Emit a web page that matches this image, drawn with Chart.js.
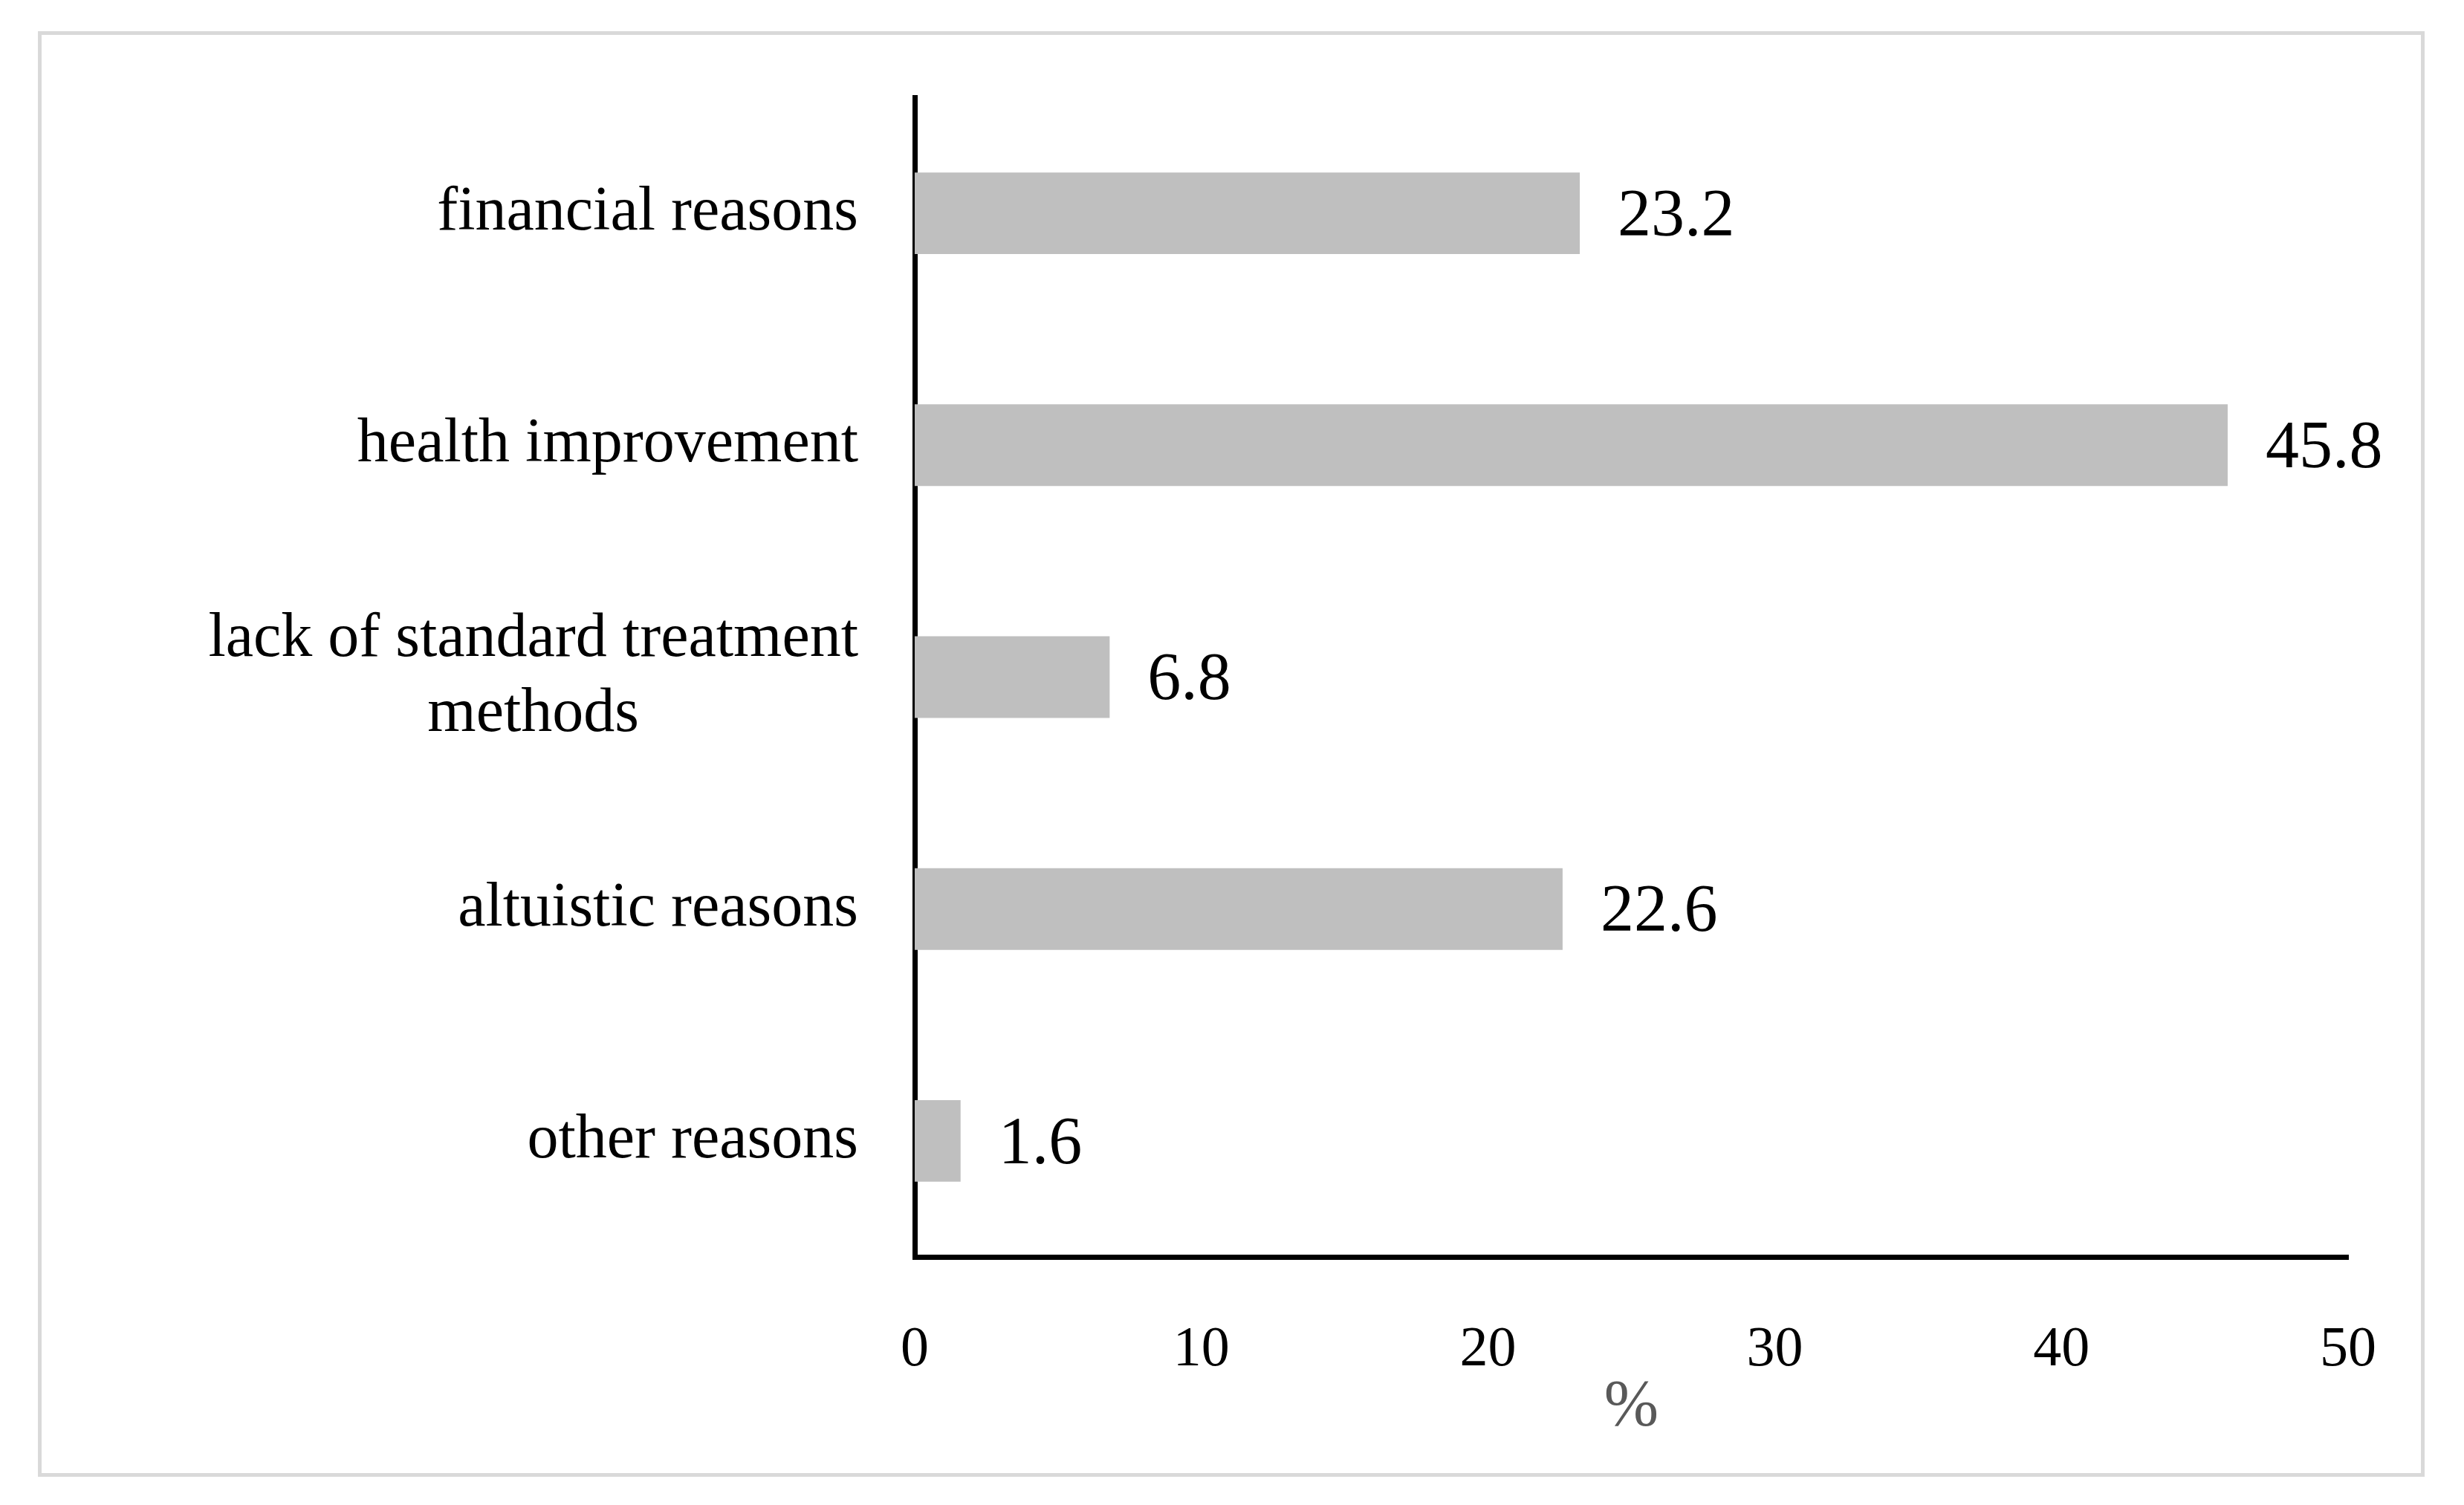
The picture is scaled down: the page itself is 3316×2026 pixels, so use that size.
<!DOCTYPE html>
<html>
<head>
<meta charset="utf-8">
<script src="https://cdn.jsdelivr.net/npm/chart.js@4.4.1/dist/chart.umd.min.js"></script>
<style>
    body { margin: 0; background: #fff; }
    #wrap { position: relative; width: 3316px; height: 2026px; }
    #moldura { position: absolute; left: 51px; top: 42px; width: 3202px; height: 1936px; border: 5px solid #d9d9d9; }
    canvas { position: absolute; left: 0; top: 0; }
</style>
</head>
<body>
<div id="wrap">
    <div id="moldura"></div>
    <canvas id="chart-motivos" width="3316" height="2026"></canvas>
</div>
<script>
//Dados do grafico
var categorias = [
    ['financial reasons'],
    ['health improvement'],
    ['lack of standard treatment', 'methods'],
    ['altuistic reasons'],
    ['other reasons']
];
var valores = [23.2, 45.8, 6.8, 22.6, 1.6];
var ticksX = [0, 10, 20, 30, 40, 50];

var fonte = 'Liberation Serif, Times New Roman, serif';

//Rotulos das categorias: bloco alinhado a direita, linhas centralizadas
var rotulosY = {
    id: 'rotulosY',
    afterDraw: function (chart) {
        let ctx = chart.ctx;
        let escala = chart.scales.y;
        let direita = 1155;
        let altLinha = 101;
        ctx.save();
        ctx.font = '84px ' + fonte;
        ctx.fillStyle = '#000';
        ctx.textAlign = 'center';
        ctx.textBaseline = 'middle';
        categorias.forEach(function (linhas, i) {
            let largura = 0;
            linhas.forEach(function (l) {
                largura = Math.max(largura, ctx.measureText(l).width);
            });
            let y0 = escala.getPixelForTick(i) - (linhas.length - 1) * altLinha / 2;
            linhas.forEach(function (l, j) {
                ctx.fillText(l, direita - largura / 2, y0 + j * altLinha);
            });
        });
        ctx.restore();
    }
};

//Valores no fim de cada barra
var rotulosValor = {
    id: 'rotulosValor',
    afterDatasetsDraw: function (chart) {
        let ctx = chart.ctx;
        let meta = chart.getDatasetMeta(0);
        ctx.save();
        ctx.font = '90px ' + fonte;
        ctx.fillStyle = '#000';
        ctx.textAlign = 'left';
        ctx.textBaseline = 'middle';
        meta.data.forEach(function (barra, i) {
            ctx.fillText(valores[i].toFixed(1), barra.x + 51, barra.y + 6);
        });
        ctx.restore();
    }
};

var ctx = document.getElementById('chart-motivos').getContext('2d');
var data = {
    labels: categorias.map(function (c) { return c.join(' '); }),
    datasets: [{
            label: '%',
            data: valores,
            backgroundColor: '#bfbfbf',
            barPercentage: 0.352,
            categoryPercentage: 1
        }]
};
const config = {
    type: 'bar',
    data,
    plugins: [rotulosY, rotulosValor],
    options: {
        indexAxis: 'y',
        responsive: false,
        devicePixelRatio: 1,
        animation: false,
        layout: {
            padding: {left: 0, top: 131, right: 156, bottom: 0}
        },
        scales: {
            x: {
                min: 0,
                max: 50,
                z: 1,
                afterBuildTicks: function (scale) {
                    scale.ticks = ticksX.map(function (v) { return {value: v}; });
                },
                afterFit: function (scale) {
                    scale.height = 2026 - 1692;
                },
                grid: {display: false, drawTicks: false},
                border: {display: true, color: '#000', width: 7},
                ticks: {
                    color: '#000',
                    padding: 80,
                    font: {family: fonte, size: 76}
                },
                title: {
                    display: true,
                    text: '%',
                    color: '#595959',
                    font: {family: fonte, size: 88},
                    padding: {top: 0, bottom: 78}
                }
            },
            y: {
                z: 1,
                afterFit: function (scale) {
                    scale.width = 1231;
                },
                grid: {display: false, drawTicks: false},
                border: {display: true, color: '#000', width: 7},
                ticks: {display: false}
            }
        },
        plugins: {
            legend: {display: false},
            tooltip: {enabled: false}
        }
    }
};
var graficoMotivos = new Chart(ctx, config);
</script>
</body>
</html>
